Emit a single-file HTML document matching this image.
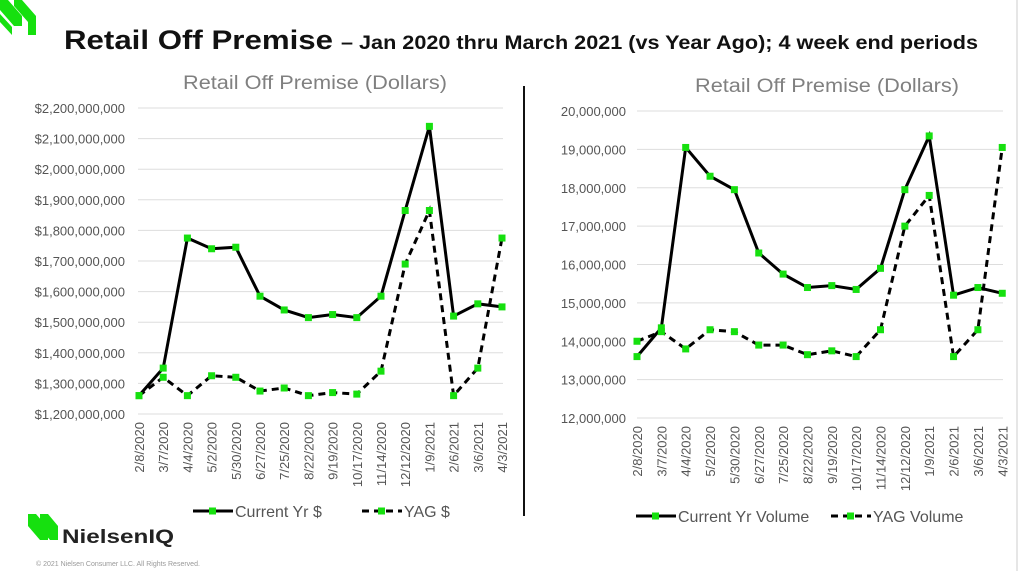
<!DOCTYPE html>
<html><head><meta charset="utf-8"><style>
body{margin:0;background:#fff;width:1024px;height:571px;overflow:hidden;font-family:"Liberation Sans",sans-serif}
</style></head><body>
<svg id="s" width="1024" height="571" xmlns="http://www.w3.org/2000/svg">
<rect width="1024" height="571" fill="#fff"/>
<line x1="1017" y1="0" x2="1017" y2="571" stroke="#e6e6e6" stroke-width="2"/>
<polygon points="0,0 8,0 22,16 22,26 14,26 0,10" fill="#16e00f"/>
<polygon points="14,0 22,0 36,16 36,35 28,35 28,22 14,6" fill="#16e00f"/>
<polygon points="0,14 12,27 12,35 0,22" fill="#16e00f"/>
<text x="64" y="49" font-size="27" font-weight="bold" fill="#111" textLength="269" lengthAdjust="spacingAndGlyphs">Retail Off Premise</text>
<text x="341" y="49" font-size="19" font-weight="bold" fill="#111" textLength="637" lengthAdjust="spacingAndGlyphs">– Jan 2020 thru March 2021 (vs Year Ago); 4 week end periods</text>
<line x1="524" y1="86" x2="524" y2="516" stroke="#111" stroke-width="2"/>
<text x="183" y="89" font-size="19" fill="#808080" textLength="264" lengthAdjust="spacingAndGlyphs">Retail Off Premise (Dollars)</text>
<text x="695" y="92" font-size="19" fill="#808080" textLength="264" lengthAdjust="spacingAndGlyphs">Retail Off Premise (Dollars)</text>
<polygon points="28,514 36,514 48,528 48,540 40,540 28,526" fill="#16e00f"/>
<polygon points="40,514 48,514 58,526 58,540 50,540 40,528" fill="#16e00f"/>
<text x="62" y="543" font-size="19" font-weight="bold" fill="#222" textLength="112" lengthAdjust="spacingAndGlyphs">NielsenIQ</text>
<text x="36" y="566" font-size="7" fill="#999">© 2021 Nielsen Consumer LLC. All Rights Reserved.</text>
<g id="g"></g>
</svg>
<script>
const NS="http://www.w3.org/2000/svg",g=document.getElementById('g');
function el(t,a,txt){const e=document.createElementNS(NS,t);for(const k in a)e.setAttribute(k,a[k]);if(txt)e.textContent=txt;g.appendChild(e);return e;}
const dates=["2/8/2020","3/7/2020","4/4/2020","5/2/2020","5/30/2020","6/27/2020","7/25/2020","8/22/2020","9/19/2020","10/17/2020","11/14/2020","12/12/2020","1/9/2021","2/6/2021","3/6/2021","4/3/2021"];
function chart(o){
 for(let i=0;i<o.n;i++){const v=o.min+i*o.step,y=o.yb-(v-o.min)*o.py;
  el('line',{x1:o.gx1,x2:o.gx2,y1:y,y2:y,stroke:'#ddd','stroke-width':1});
  el('text',{x:o.lx,y:y+5,'font-size':13,fill:'#555','text-anchor':'end'},o.fmt(v));}
 dates.forEach((d,i)=>{const x=o.x0+i*o.dx;el('text',{x:0,y:0,'font-size':13,fill:'#555','text-anchor':'end',transform:`translate(${x+5},${o.yb+8}) rotate(-90)`},d);});
 [[o.cur,''],[o.yag,'7,5']].forEach(([s,da])=>{
  const pts=s.map((v,i)=>[o.x0+i*o.dx,o.yb-(v-o.min)*o.py]);
  el('polyline',{points:pts.map(p=>p.join(',')).join(' '),fill:'none',stroke:'#000','stroke-width':3,'stroke-dasharray':da});
  pts.forEach(p=>el('rect',{x:p[0]-3.5,y:p[1]-3.5,width:7,height:7,fill:'#16e00f'}));});
 o.leg.forEach(([x,t,da])=>{el('line',{x1:x,x2:x+40,y1:o.ly,y2:o.ly,stroke:'#000','stroke-width':3,'stroke-dasharray':da});
  el('rect',{x:x+16,y:o.ly-3.5,width:7,height:7,fill:'#16e00f'});
  el('text',{x:x+42,y:o.ly+6,'font-size':16,fill:'#555'},t);});
}
const mf=v=>v.toLocaleString('en-US');
chart({min:1.2e9,step:1e8,n:11,yb:414,py:306/1e9,gx1:138,gx2:503,lx:125,x0:139,dx:24.2,fmt:v=>'$'+mf(v),ly:511,
 cur:[1.26,1.35,1.775,1.74,1.745,1.585,1.54,1.515,1.525,1.515,1.585,1.865,2.14,1.52,1.56,1.55].map(v=>v*1e9),
 yag:[1.26,1.32,1.26,1.325,1.32,1.275,1.285,1.26,1.27,1.265,1.34,1.69,1.865,1.26,1.35,1.775].map(v=>v*1e9),
 leg:[[193,'Current Yr $',''],[362,' YAG $','7,5']]});
chart({min:12e6,step:1e6,n:9,yb:418,py:307/8e6,gx1:637,gx2:1003,lx:626,x0:637,dx:24.35,fmt:mf,ly:516,
 cur:[13.6,14.35,19.05,18.3,17.95,16.3,15.75,15.4,15.45,15.35,15.9,17.95,19.35,15.2,15.4,15.25].map(v=>v*1e6),
 yag:[14.0,14.25,13.8,14.3,14.25,13.9,13.9,13.65,13.75,13.6,14.3,17.0,17.8,13.6,14.3,19.05].map(v=>v*1e6),
 leg:[[636,'Current Yr Volume',''],[831,'YAG Volume','7,5']]});
</script>
</body></html>
